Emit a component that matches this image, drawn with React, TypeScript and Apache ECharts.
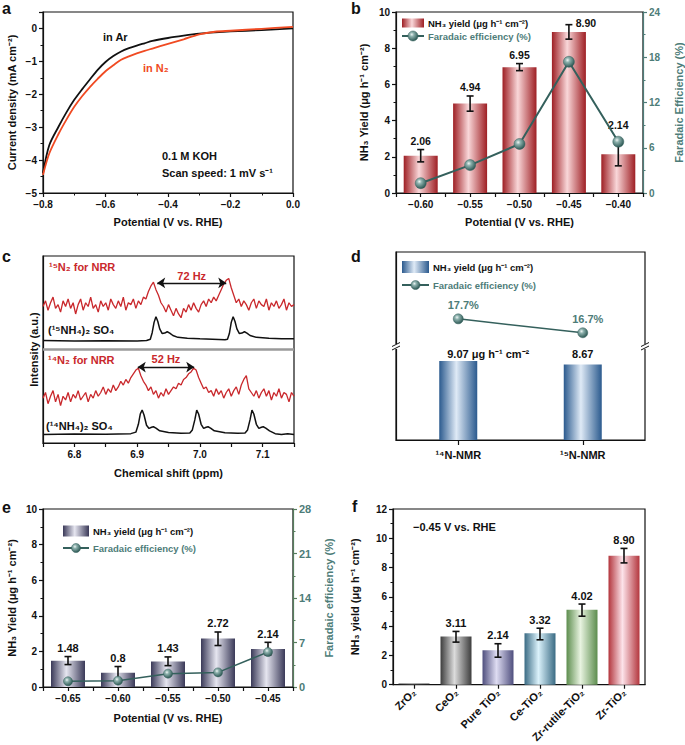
import React, { useEffect, useRef } from 'react';
import * as echarts from 'echarts';

const FONT = '"Liberation Sans", Arial, Helvetica, sans-serif';
const INK = '#111111';
const TEAL = '#4d7c78';
const TEAL_DARK = '#34605c';
const ORANGE = '#f04a22';
const NMR_RED = '#c9282c';

// ---------- panel a : LSV ----------
const aPotential = [-0.8, -0.78, -0.75, -0.725, -0.7, -0.675, -0.65, -0.625, -0.6, -0.575, -0.55, -0.525, -0.5, -0.475, -0.45, -0.4, -0.35, -0.3, -0.25, -0.2, -0.1, 0];
const aArCurrent = [-4.4, -3.55, -2.98, -2.55, -2.17, -1.85, -1.55, -1.26, -1.02, -0.84, -0.7, -0.6, -0.52, -0.45, -0.38, -0.29, -0.22, -0.16, -0.12, -0.09, -0.05, 0.0];
const aN2Current = [-4.45, -3.8, -3.2, -2.77, -2.38, -2.06, -1.78, -1.53, -1.3, -1.12, -0.95, -0.85, -0.76, -0.68, -0.61, -0.47, -0.33, -0.18, -0.1, -0.07, -0.01, 0.05];

// ---------- panel b ----------
const bPotential = [-0.6, -0.55, -0.5, -0.45, -0.4];
const bYield = [2.06, 4.94, 6.95, 8.9, 2.14];
const bYieldLow = [1.72, 4.52, 6.76, 8.5, 1.5];
const bYieldHigh = [2.4, 5.36, 7.15, 9.3, 2.8];
const bFE = [1.3, 3.7, 6.5, 17.4, 6.8];

// ---------- panel c : NMR ----------
const cShiftStart = 6.75;
const cShiftStep = 0.004;
const cRed15 = [73, 76, 71, 75, 78, 72, 74, 70, 76, 73,
  77, 72, 75, 69, 74, 77, 71, 75, 73, 78,
  72, 74, 70, 76, 73, 75, 71, 77, 74, 72,
  76, 73, 78, 71, 75, 74, 77, 72, 76, 74,
  78, 77, 81, 84, 86, 82, 79, 75, 73, 70,
  74, 71, 68, 72, 69, 67, 72, 70, 74, 71,
  75, 72, 70, 74, 76, 73, 77, 75, 78, 76,
  79, 82, 85, 87, 88, 83, 79, 75, 77, 73,
  76, 74, 71, 75, 77, 72, 76, 74, 73, 77,
  71, 75, 73, 76, 72, 74, 77, 71, 75, 73,
  74];
const cRed14 = [24, 27, 21, 25, 28, 22, 26, 20, 25, 23,
  27, 22, 26, 24, 28, 23, 25, 27, 22, 26,
  24, 28, 25, 27, 30, 26, 29, 27, 31, 28,
  30, 33, 31, 34, 32, 35, 37, 39, 40, 36,
  33, 31, 28, 30, 26, 28, 24, 27, 25, 29,
  26, 28, 30, 29, 32, 31, 34, 35, 37, 38,
  40, 39, 35, 32, 29, 30, 27, 28, 25, 29,
  26, 28, 24, 27, 29, 25, 28, 30, 26, 31,
  34, 36, 29, 27, 25, 28, 24, 27, 29, 25,
  28, 23, 27, 25, 29, 24, 27, 26, 22, 27,
  25];
const cBlack15 = [[6.75, 54.8], [6.8, 54.6], [6.85, 54.7], [6.9, 54.6], [6.915, 54.8], [6.921, 55.5], [6.924, 59], [6.927, 64.5], [6.93, 67.5], [6.933, 65], [6.936, 61], [6.94, 58.5], [6.944, 58.8], [6.948, 59.5], [6.952, 58.8], [6.957, 57.5], [6.965, 56.5], [6.98, 56], [7.0, 55.7], [7.02, 55.5], [7.04, 55.2], [7.044, 55.5], [7.047, 58.5], [7.05, 64.5], [7.053, 67.5], [7.056, 65], [7.059, 61], [7.063, 58.5], [7.067, 58.8], [7.071, 59.5], [7.075, 58.8], [7.08, 57.5], [7.09, 56.5], [7.11, 56], [7.13, 55.8], [7.15, 55.8]];
const cBlack14 = [[6.75, 4.6], [6.8, 4.8], [6.85, 4.7], [6.89, 5], [6.898, 5.8], [6.902, 10], [6.905, 15.5], [6.908, 17.6], [6.911, 15], [6.915, 9.5], [6.919, 7.8], [6.923, 8.4], [6.926, 8.7], [6.93, 8], [6.936, 6.5], [6.95, 5.6], [6.97, 5.2], [6.984, 5.4], [6.988, 7], [6.992, 12.5], [6.995, 17.6], [6.998, 15.5], [7.002, 10], [7.006, 7.8], [7.01, 8.4], [7.013, 8.7], [7.017, 8], [7.023, 6.5], [7.04, 5.5], [7.06, 5.2], [7.072, 5.4], [7.076, 7], [7.08, 12.5], [7.083, 17.6], [7.086, 15.5], [7.09, 10], [7.094, 7.8], [7.098, 8.4], [7.101, 8.7], [7.105, 8], [7.111, 6.5], [7.12, 5], [7.13, 4.5], [7.14, 4.9], [7.15, 4.6]];
const cSplit15Hz = [6.932, 7.042];
const cSplit14Hz = [6.901, 6.991];

// ---------- panel d ----------
const dSamples = ['\u00b9\u2074N-NMR', '\u00b9\u2075N-NMR'];
const dYield = [9.07, 8.67];
const dYieldText = ['9.07 \u03bcg h\u207b\u00b9 cm\u207b\u00b2', '8.67'];
const dFE = [17.7, 16.7];

// ---------- panel e ----------
const ePotential = [-0.65, -0.6, -0.55, -0.5, -0.45];
const eYield = [1.48, 0.8, 1.43, 2.72, 2.14];
const eYieldLow = [1.26, 0.46, 1.2, 2.33, 1.8];
const eYieldHigh = [1.71, 1.15, 1.69, 3.09, 2.51];
const eYieldText = ['1.48', '0.8', '1.43', '2.72', '2.14'];
const eFE = [0.9, 1.0, 2.1, 2.3, 5.5];

// ---------- panel f ----------
const fSamples = ['ZrO\u2082', 'CeO\u2082', 'Pure TiO\u2082', 'Ce-TiO\u2082', 'Zr-rutile-TiO\u2082', 'Zr-TiO\u2082'];
const fYield = [0.08, 3.29, 2.36, 3.51, 5.12, 8.8];
const fYieldLow = [null, 2.91, 1.88, 3.07, 4.68, 8.32];
const fYieldHigh = [null, 3.64, 2.8, 3.86, 5.51, 9.31];
const fYieldText = ['', '3.11', '2.14', '3.32', '4.02', '8.90'];

// ---------- styles ----------
const fBarColors = [['#1e1e1e', '#4a4a4a'], ['#3d3d3d', '#dcdcdc'], ['#4f4f7e', '#dedcf2'], ['#3a6b84', '#dbf2fb'], ['#5d8d4e', '#e8f3e0'], ['#b3363d', '#fde3ea']];
const bLabelOffsets = [[0, 0], [0, 0], [0, 0], [17, 7], [0, -9]];
const dLabelLayout: any[] = [{ align: 'left', offset: [-11, 0], distance: 2 }, { distance: 5.5 }];

const hGrad = (dark: string, light: string) =>
  new echarts.graphic.LinearGradient(0, 0, 1, 0, [
    { offset: 0, color: dark },
    { offset: 0.45, color: light },
    { offset: 1, color: dark },
  ]);
const ball = () =>
  new echarts.graphic.RadialGradient(0.38, 0.35, 0.7, [
    { offset: 0, color: '#eef6f4' },
    { offset: 0.3, color: '#8cb0ac' },
    { offset: 1, color: '#24504c' },
  ]);

const signed = (v: number, d: number) => {
  const a = Math.abs(v) < 1e-9 ? 0 : v;
  return (a < 0 ? '\u2212' : '') + Math.abs(a).toFixed(d);
};
const onStep = (v: number, step: number) => Math.abs(v / step - Math.round(v / step)) < 1e-6;

function errorRender(labels: string[], fontSize: number, offsets?: number[][]) {
  return (params: any, api: any) => {
    const x = api.value(0);
    const lo = api.value(1);
    const hi = api.value(2);
    const idx = params.dataIndex;
    const pLo = api.coord([x, lo]);
    const pHi = api.coord([x, hi]);
    const cap = 3.5;
    const st = { stroke: INK, lineWidth: 1.6 };
    const children: any[] = [
      { type: 'line', shape: { x1: pHi[0], y1: pHi[1], x2: pLo[0], y2: pLo[1] }, style: st },
      { type: 'line', shape: { x1: pHi[0] - cap, y1: pHi[1], x2: pHi[0] + cap, y2: pHi[1] }, style: st },
      { type: 'line', shape: { x1: pLo[0] - cap, y1: pLo[1], x2: pLo[0] + cap, y2: pLo[1] }, style: st },
    ];
    const lab = labels[idx];
    if (lab) {
      const off = offsets ? offsets[idx] : [0, 0];
      children.push({
        type: 'text',
        x: pHi[0] + off[0],
        y: pHi[1] - 3 + off[1],
        style: {
          text: lab,
          font: `bold ${fontSize}px ${FONT}`,
          fill: INK,
          align: 'center',
          textAlign: 'center',
          verticalAlign: 'bottom',
          textVerticalAlign: 'bottom',
        },
      });
    }
    return { type: 'group', children };
  };
}

const txt = (x: number, y: number, text: string, size = 11, color = INK, align = 'left') => ({
  type: 'text',
  x,
  y,
  silent: true,
  style: {
    text,
    font: `bold ${size}px ${FONT}`,
    fill: color,
    align,
    textAlign: align,
    verticalAlign: 'middle',
    textVerticalAlign: 'middle',
  },
});

const legend = (x: number, y1: number, y2: number, w: number, h: number, grad: any, r: number) => [
  { type: 'rect', shape: { x, y: y1 - h / 2, width: w, height: h }, style: { fill: grad }, silent: true },
  txt(x + w + 4, y1, 'NH\u2083 yield (\u03bcg h\u207b\u00b9 cm\u207b\u00b2)', 9.5, INK),
  { type: 'line', shape: { x1: x, y1: y2, x2: x + w, y2 }, style: { stroke: TEAL_DARK, lineWidth: 2 }, silent: true },
  { type: 'circle', shape: { cx: x + w / 2, cy: y2, r }, style: { fill: ball(), stroke: TEAL_DARK, lineWidth: 0.5 }, silent: true },
  txt(x + w + 4, y2, 'Faradaic efficiency (%)', 9.5, TEAL),
];

const breakMark = (x: number, y: number) => [
  { type: 'rect', shape: { x: x - 4, y: y - 3, width: 8, height: 5 }, style: { fill: '#fff' }, silent: true, z: 10 },
  { type: 'line', shape: { x1: x - 4, y1: y - 0.5, x2: x + 4, y2: y - 4.5 }, style: { stroke: INK, lineWidth: 1 }, silent: true, z: 11 },
  { type: 'line', shape: { x1: x - 4, y1: y + 3, x2: x + 4, y2: y - 1 }, style: { stroke: INK, lineWidth: 1 }, silent: true, z: 11 },
];

function buildOption(): any {
  const labelFont = { fontFamily: FONT, fontWeight: 'bold', fontSize: 10, color: INK };
  const nameFont = { fontFamily: FONT, fontWeight: 'bold', fontSize: 11, color: INK };
  const aLine = (c = INK) => ({ show: true, onZero: false, lineStyle: { color: c, width: 1.2 } });
  const aTick = (c = INK, len = 4) => ({ show: true, length: len, lineStyle: { color: c, width: 1.2 } });
  const aMinor = (c = INK) => ({ show: true, splitNumber: 2, length: 2.5, lineStyle: { color: c, width: 1 } });
  const noSplit = { show: false };

  const gridBox = { show: true, borderColor: INK, borderWidth: 1.2, backgroundColor: 'transparent' };
  const grid = [
    { left: 43, top: 12, width: 250, height: 181, ...gridBox },
    { left: 396, top: 12, width: 249, height: 181, ...gridBox },
    { left: 43, top: 256, width: 251, height: 187, ...gridBox },
    { left: 396, top: 252, width: 249, height: 188, ...gridBox },
    { left: 43, top: 509, width: 250, height: 178, ...gridBox },
    { left: 393, top: 509, width: 252, height: 182, ...gridBox },
  ];

  const potentialFmt = (v: number) => (onStep(v, 0.05) ? signed(v, 2) : '');

  const xAxis = [
    {
      type: 'value', gridIndex: 0, min: -0.8, max: 0, interval: 0.2,
      axisLine: aLine(), axisTick: aTick(), minorTick: aMinor(), splitLine: noSplit, minorSplitLine: noSplit,
      axisLabel: { ...labelFont, margin: 6, formatter: (v: number) => signed(v, 1) },
      name: 'Potential (V vs. RHE)', nameLocation: 'middle', nameGap: 23, nameTextStyle: nameFont,
    },
    {
      type: 'value', gridIndex: 1, min: -0.625, max: -0.375, interval: 0.025,
      axisLine: aLine(), axisTick: aTick(), splitLine: noSplit,
      axisLabel: { ...labelFont, margin: 6, formatter: potentialFmt },
      name: 'Potential (V vs. RHE)', nameLocation: 'middle', nameGap: 23, nameTextStyle: nameFont,
    },
    {
      type: 'value', gridIndex: 2, min: 6.75, max: 7.15, interval: 0.05,
      axisLine: aLine(), axisTick: aTick(), splitLine: noSplit,
      axisLabel: { ...labelFont, margin: 6, formatter: (v: number) => (onStep(v, 0.1) ? v.toFixed(1) : '') },
      name: 'Chemical shift (ppm)', nameLocation: 'middle', nameGap: 24, nameTextStyle: nameFont,
    },
    {
      type: 'category', gridIndex: 3, data: dSamples, boundaryGap: true,
      axisLine: aLine(), axisTick: { ...aTick(INK, 5), alignWithLabel: true }, splitLine: noSplit,
      axisLabel: { ...labelFont, fontSize: 11, margin: 9 },
    },
    {
      type: 'value', gridIndex: 4, min: -0.675, max: -0.425, interval: 0.025,
      axisLine: aLine(), axisTick: aTick(), splitLine: noSplit,
      axisLabel: { ...labelFont, margin: 6, formatter: potentialFmt },
      name: 'Potential (V vs. RHE)', nameLocation: 'middle', nameGap: 25, nameTextStyle: nameFont,
    },
    {
      type: 'category', gridIndex: 5, data: fSamples, boundaryGap: true,
      axisLine: aLine(), axisTick: { ...aTick(), alignWithLabel: true }, splitLine: noSplit,
      axisLabel: { ...labelFont, fontSize: 11, rotate: 45, margin: 6, interval: 0 },
    },
  ];

  const yAxis = [
    {
      type: 'value', gridIndex: 0, min: -5, max: 0.5, interval: 1,
      axisLine: aLine(), axisTick: aTick(), minorTick: aMinor(), splitLine: noSplit, minorSplitLine: noSplit,
      axisLabel: { ...labelFont, margin: 6, formatter: (v: number) => (onStep(v, 1) ? signed(v, 0) : '') },
      name: 'Current density (mA cm\u207b\u00b2)', nameLocation: 'middle', nameGap: 26, nameTextStyle: nameFont,
    },
    {
      type: 'value', gridIndex: 1, min: 0, max: 10, interval: 2,
      axisLine: aLine(), axisTick: aTick(), minorTick: aMinor(), splitLine: noSplit, minorSplitLine: noSplit,
      axisLabel: { ...labelFont, margin: 6 },
      name: 'NH\u2083 Yield (\u03bcg h\u207b\u00b9 cm\u207b\u00b2)', nameLocation: 'middle', nameGap: 27, nameTextStyle: nameFont,
    },
    {
      type: 'value', gridIndex: 1, position: 'right', min: 0, max: 24, interval: 6,
      axisLine: aLine(TEAL), axisTick: aTick(TEAL), minorTick: aMinor(TEAL), splitLine: noSplit, minorSplitLine: noSplit,
      axisLabel: { ...labelFont, color: TEAL, margin: 6 },
      name: 'Faradaic Efficiency (%)', nameLocation: 'middle', nameGap: 30, nameTextStyle: { ...nameFont, color: TEAL },
    },
    {
      type: 'value', gridIndex: 2, min: 0, max: 100,
      axisLine: aLine(), axisTick: { show: false }, axisLabel: { show: false }, splitLine: noSplit,
      name: 'Intensity (a.u.)', nameLocation: 'middle', nameGap: 4, nameTextStyle: nameFont,
    },
    {
      type: 'value', gridIndex: 3, min: 0, max: 21.6,
      axisLine: aLine(), axisTick: { show: false }, axisLabel: { show: false }, splitLine: noSplit,
    },
    { type: 'value', gridIndex: 3, min: 9, max: 22.5, show: false, splitLine: noSplit },
    {
      type: 'value', gridIndex: 4, min: 0, max: 10, interval: 2,
      axisLine: aLine(), axisTick: aTick(), minorTick: aMinor(), splitLine: noSplit, minorSplitLine: noSplit,
      axisLabel: { ...labelFont, margin: 6 },
      name: 'NH\u2083 Yield (\u03bcg h\u207b\u00b9 cm\u207b\u00b2)', nameLocation: 'middle', nameGap: 26, nameTextStyle: nameFont,
    },
    {
      type: 'value', gridIndex: 4, position: 'right', min: 0, max: 28, interval: 7,
      axisLine: aLine('#557d5c'), axisTick: aTick('#557d5c'), minorTick: aMinor('#557d5c'), splitLine: noSplit, minorSplitLine: noSplit,
      axisLabel: { ...labelFont, fontSize: 11, color: TEAL, margin: 6 },
      name: 'Faradaic efficiency (%)', nameLocation: 'middle', nameGap: 30, nameTextStyle: { ...nameFont, color: TEAL },
    },
    {
      type: 'value', gridIndex: 5, min: 0, max: 12, interval: 2,
      axisLine: aLine(), axisTick: aTick(), minorTick: aMinor(), splitLine: noSplit, minorSplitLine: noSplit,
      axisLabel: { ...labelFont, margin: 6 },
      name: 'NH\u2083 yield (\u03bcg h\u207b\u00b9 cm\u207b\u00b2)', nameLocation: 'middle', nameGap: 33, nameTextStyle: nameFont,
    },
  ];

  const feLine = (xi: number, yi: number, data: any[], size: number, extra: any = {}) => ({
    type: 'line', xAxisIndex: xi, yAxisIndex: yi, data, z: 5,
    symbol: 'circle', symbolSize: size,
    lineStyle: { color: TEAL_DARK, width: 2 },
    itemStyle: { color: ball(), borderColor: TEAL_DARK, borderWidth: 0.5 },
    ...extra,
  });

  const fErrIdx = fYieldLow.map((v, i) => (v == null ? -1 : i)).filter((i) => i >= 0);

  const series: any[] = [
    // a
    {
      type: 'line', xAxisIndex: 0, yAxisIndex: 0, symbol: 'none', smooth: 0.3,
      lineStyle: { color: INK, width: 1.8 }, data: aPotential.map((x, i) => [x, aArCurrent[i]]),
    },
    {
      type: 'line', xAxisIndex: 0, yAxisIndex: 0, symbol: 'none', smooth: 0.3,
      lineStyle: { color: ORANGE, width: 1.8 }, data: aPotential.map((x, i) => [x, aN2Current[i]]),
    },
    // b
    {
      type: 'bar', xAxisIndex: 1, yAxisIndex: 1, barWidth: 34, z: 2,
      itemStyle: { color: hGrad('#9e1f24', '#f9d7d9') },
      data: bPotential.map((x, i) => [x, bYield[i]]),
    },
    {
      type: 'custom', xAxisIndex: 1, yAxisIndex: 1, z: 3,
      encode: { x: 0, y: [1, 2] },
      renderItem: errorRender(bYield.map((v) => v.toFixed(2)), 10.5, bLabelOffsets),
      data: bPotential.map((x, i) => [x, bYieldLow[i], bYieldHigh[i]]),
    },
    feLine(1, 2, bPotential.map((x, i) => [x, bFE[i]]), 11),
    // c
    {
      type: 'line', xAxisIndex: 2, yAxisIndex: 3, symbol: 'none', z: 3,
      lineStyle: { color: NMR_RED, width: 1.3 },
      data: cRed15.map((v, i) => [cShiftStart + i * cShiftStep, v]),
      markLine: {
        silent: true, symbol: ['arrow', 'arrow'], symbolSize: 8,
        lineStyle: { color: INK, width: 1.4, type: 'solid' },
        label: { show: true, position: 'insideMiddleTop', formatter: '{b}', color: NMR_RED, fontFamily: FONT, fontWeight: 'bold', fontSize: 11, distance: 1 },
        data: [[{ name: '72 Hz', coord: [cSplit15Hz[0], 85.6] }, { coord: [cSplit15Hz[1], 85.6] }]],
      },
    },
    {
      type: 'line', xAxisIndex: 2, yAxisIndex: 3, symbol: 'none', z: 3,
      lineStyle: { color: INK, width: 1.5 },
      data: cBlack15,
      markLine: {
        silent: true, symbol: ['none', 'none'], label: { show: false },
        lineStyle: { color: '#9a9a9a', width: 2.5, type: 'solid' },
        data: [{ yAxis: 50 }],
      },
    },
    {
      type: 'line', xAxisIndex: 2, yAxisIndex: 3, symbol: 'none', z: 3,
      lineStyle: { color: NMR_RED, width: 1.3 },
      data: cRed14.map((v, i) => [cShiftStart + i * cShiftStep, v]),
      markLine: {
        silent: true, symbol: ['arrow', 'arrow'], symbolSize: 8,
        lineStyle: { color: INK, width: 1.4, type: 'solid' },
        label: { show: true, position: 'insideMiddleTop', formatter: '{b}', color: NMR_RED, fontFamily: FONT, fontWeight: 'bold', fontSize: 11, distance: 3 },
        data: [[{ name: '52 Hz', coord: [cSplit14Hz[0], 40.6] }, { coord: [cSplit14Hz[1], 40.6] }]],
      },
    },
    {
      type: 'line', xAxisIndex: 2, yAxisIndex: 3, symbol: 'none', z: 3,
      lineStyle: { color: INK, width: 1.5 },
      data: cBlack14,
    },
    // d
    {
      type: 'bar', xAxisIndex: 3, yAxisIndex: 4, barWidth: 38, z: 2,
      itemStyle: { color: hGrad('#2b5a8e', '#dfeaf6') },
      label: {
        show: true, position: 'top', fontFamily: FONT, fontWeight: 'bold', fontSize: 11, color: INK,
        formatter: (p: any) => dYieldText[p.dataIndex],
      },
      data: dYield.map((v, i) => ({ value: v, label: dLabelLayout[i] })),
    },
    feLine(3, 5, dFE, 10, {
      lineStyle: { color: TEAL_DARK, width: 1.5 },
      label: { show: true, position: 'top', distance: 3, offset: [5, 0], formatter: '{c}%', color: TEAL, fontFamily: FONT, fontWeight: 'bold', fontSize: 11 },
    }),
    // e
    {
      type: 'bar', xAxisIndex: 4, yAxisIndex: 6, barWidth: 34, z: 2,
      itemStyle: { color: hGrad('#3a3958', '#e6e6f0') },
      data: ePotential.map((x, i) => [x, eYield[i]]),
    },
    {
      type: 'custom', xAxisIndex: 4, yAxisIndex: 6, z: 3,
      encode: { x: 0, y: [1, 2] },
      renderItem: errorRender(eYieldText, 11),
      data: ePotential.map((x, i) => [x, eYieldLow[i], eYieldHigh[i]]),
    },
    feLine(4, 7, ePotential.map((x, i) => [x, eFE[i]]), 9, { lineStyle: { color: TEAL_DARK, width: 1.5 } }),
    // f
    {
      type: 'bar', xAxisIndex: 5, yAxisIndex: 8, barWidth: 31, z: 2,
      data: fYield.map((v, i) => ({ value: v, itemStyle: { color: hGrad(fBarColors[i][0], fBarColors[i][1]) } })),
    },
    {
      type: 'custom', xAxisIndex: 5, yAxisIndex: 8, z: 3,
      encode: { x: 0, y: [1, 2] },
      renderItem: errorRender(fErrIdx.map((i) => fYieldText[i]), 11),
      data: fErrIdx.map((i) => [i, fYieldLow[i], fYieldHigh[i]]),
    },
  ];

  const graphic: any[] = [
    txt(2, 8, 'a', 16), txt(351, 8, 'b', 16), txt(2, 256, 'c', 16),
    txt(351, 256, 'd', 16), txt(2, 507, 'e', 16), txt(352, 506, 'f', 16),
    // a annotations
    txt(103, 37, 'in Ar', 11, INK),
    txt(143, 68, 'in N\u2082', 11, ORANGE),
    txt(162, 156, '0.1 M KOH', 11, INK),
    txt(162, 173, 'Scan speed: 1 mV s\u207b\u00b9', 11, INK),
    // b legend
    ...legend(402, 23, 36, 22, 9, hGrad('#9e1f24', '#f9d7d9'), 5),
    // c annotations
    txt(49, 267, '\u00b9\u2075N\u2082 for NRR', 11, NMR_RED),
    txt(48, 330, '(\u00b9\u2075NH\u2084)\u2082 SO\u2084', 11, INK),
    txt(48, 360, '\u00b9\u2074N\u2082 for NRR', 11, NMR_RED),
    txt(46, 426, '(\u00b9\u2074NH\u2084)\u2082 SO\u2084', 11, INK),
    // d legend + breaks
    ...legend(402, 267, 285, 27, 12, hGrad('#2b5a8e', '#dfeaf6'), 4.5),
    ...breakMark(396, 347),
    ...breakMark(645, 347),
    // e legend
    ...legend(63, 531, 548, 26, 11, hGrad('#3a3958', '#e6e6f0'), 4.5),
    // f annotation
    txt(413, 527, '\u22120.45 V vs. RHE', 11, INK),
  ];

  return {
    animation: false,
    backgroundColor: '#ffffff',
    textStyle: { fontFamily: FONT },
    grid,
    xAxis,
    yAxis,
    series,
    graphic: { elements: graphic },
  };
}

export default function App() {
  const ref = useRef<HTMLDivElement>(null);
  useEffect(() => {
    if (!ref.current) return;
    const chart = echarts.init(ref.current, undefined, { renderer: 'svg' });
    chart.setOption(buildOption());
    return () => chart.dispose();
  }, []);
  return (
    <div
      ref={ref}
      style={{ position: 'absolute', left: 0, top: 0, width: 685, height: 745, background: '#fff' }}
    />
  );
}
